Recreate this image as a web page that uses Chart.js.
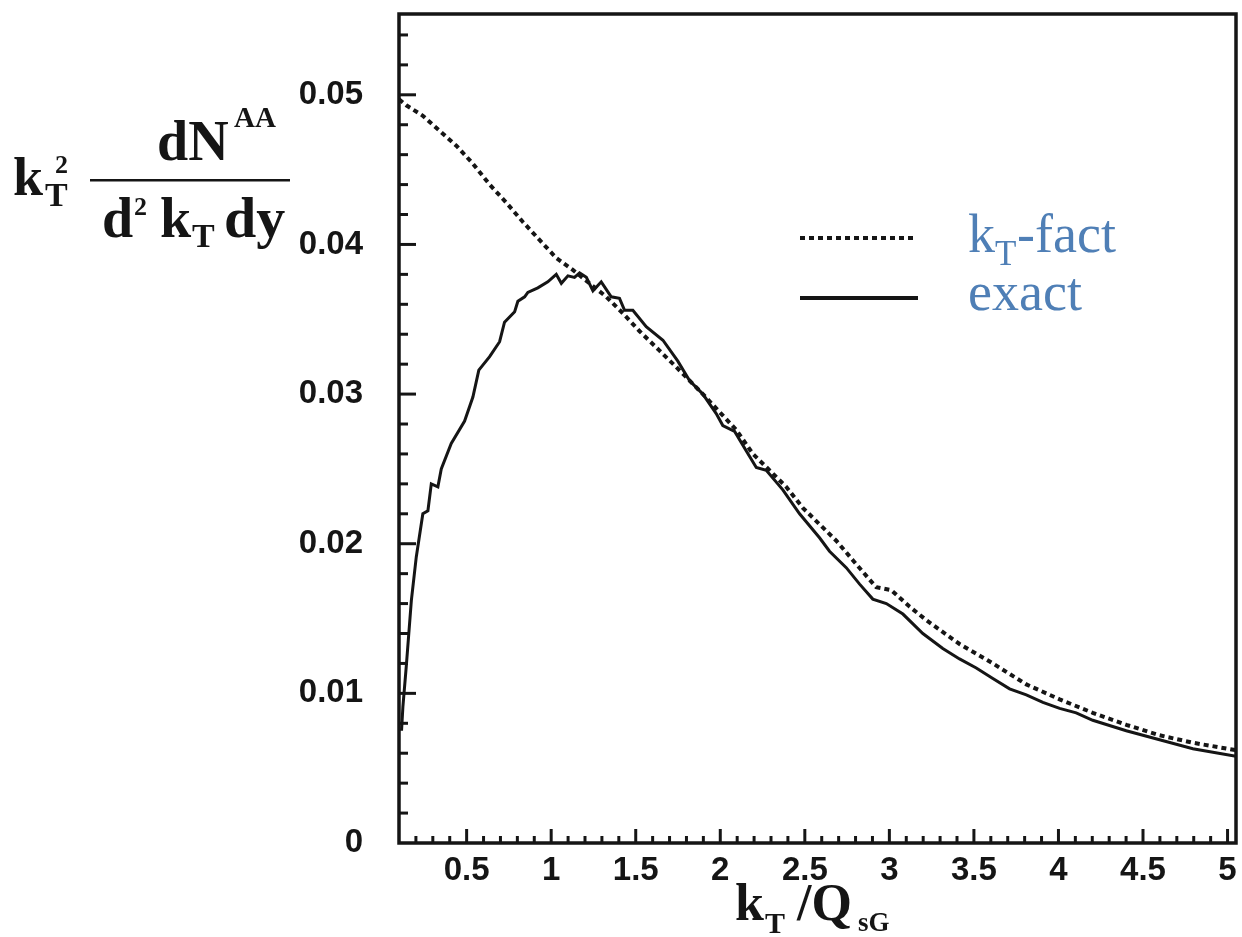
<!DOCTYPE html>
<html>
<head>
<meta charset="utf-8">
<script src="https://cdn.jsdelivr.net/npm/chart.js@4/dist/chart.umd.min.js"></script>
<style>
  html, body { margin: 0; padding: 0; background: #fff; }
</style>
</head>
<body>
<canvas id="spectrumChart" width="1242" height="937"></canvas>
<script>
// exact solution
const exactKT = [0.115, 0.123, 0.143, 0.173, 0.202, 0.241, 0.271, 0.291, 0.330, 0.350,
  0.409, 0.488, 0.537, 0.572, 0.636, 0.695, 0.724, 0.784, 0.803, 0.843,
  0.862, 0.921, 0.980, 1.030, 1.060, 1.099, 1.138, 1.168, 1.208, 1.247,
  1.296, 1.355, 1.404, 1.434, 1.483, 1.562, 1.661, 1.749, 1.818, 1.897,
  1.976, 2.015, 2.085, 2.154, 2.213, 2.272, 2.370, 2.469, 2.587, 2.646,
  2.745, 2.824, 2.902, 2.982, 3.080, 3.198, 3.316, 3.415, 3.514, 3.612,
  3.711, 3.810, 3.908, 4.007, 4.105, 4.203, 4.401, 4.598, 4.795, 5.05];
const exactValues = [0.0075, 0.0091, 0.0118, 0.0162, 0.0191, 0.0220, 0.0222, 0.0240, 0.0238, 0.0250,
  0.0267, 0.0282, 0.0298, 0.0316, 0.0325, 0.0335, 0.0348, 0.0355, 0.0362, 0.0365,
  0.0368, 0.0371, 0.0375, 0.0380, 0.0374, 0.0379, 0.0378, 0.0381, 0.0378, 0.0369,
  0.0375, 0.0365, 0.0364, 0.0356, 0.0356, 0.0345, 0.0336, 0.0322, 0.0309, 0.0300,
  0.0287, 0.0279, 0.0275, 0.0262, 0.0251, 0.0249, 0.0236, 0.0220, 0.0204, 0.0195,
  0.0184, 0.0173, 0.0163, 0.0160, 0.0153, 0.0140, 0.0130, 0.0123, 0.0117, 0.0110,
  0.0103, 0.0099, 0.0094, 0.0090, 0.0087, 0.0082, 0.0075, 0.0069, 0.0063, 0.0058];

// kT-factorized curve
const factKT = [0.1, 0.143, 0.241, 0.340, 0.439, 0.537, 0.636, 0.734, 0.833, 0.931,
  1.030, 1.128, 1.227, 1.326, 1.424, 1.523, 1.641, 1.740, 1.897, 2.095,
  2.193, 2.292, 2.390, 2.488, 2.587, 2.686, 2.784, 2.883, 2.922, 3.011,
  3.119, 3.218, 3.415, 3.612, 3.810, 4.007, 4.203, 4.401, 4.598, 4.795, 5.05];
const factValues = [0.0497, 0.0493, 0.0486, 0.0476, 0.0466, 0.0454, 0.0440, 0.0428, 0.0415, 0.0403,
  0.0391, 0.0383, 0.0374, 0.0365, 0.0354, 0.0342, 0.0329, 0.0318, 0.0300, 0.0276,
  0.0260, 0.0249, 0.0238, 0.0224, 0.0213, 0.0202, 0.0189, 0.0176, 0.0171, 0.0169,
  0.0158, 0.0149, 0.0133, 0.0120, 0.0106, 0.0096, 0.0087, 0.0079, 0.0072, 0.0067, 0.0062];

const xTickValues = [0.5, 1, 1.5, 2, 2.5, 3, 3.5, 4, 4.5, 5];
const yTickValues = [0, 0.01, 0.02, 0.03, 0.04, 0.05];

const SERIF = '"Liberation Serif", "Times New Roman", serif';
const SANS = '"Liberation Sans", Arial, sans-serif';
const INK = '#151515';
const LEGEND_BLUE = '#4f7fb6';

// frame + inward ticks like the old PAW style
const frameTicks = {
    id: 'frameTicks',
    afterDatasetsDraw(chart) {
        const { ctx, chartArea: a, scales: { x, y } } = chart;
        ctx.save();
        ctx.strokeStyle = INK;
        ctx.lineWidth = 3;
        for (let i = 2; i <= 50; i++) {
            const px = x.getPixelForValue(i / 10);
            const len = i % 5 === 0 ? 14 : 7;
            ctx.beginPath();
            ctx.moveTo(px, a.bottom);
            ctx.lineTo(px, a.bottom - len);
            ctx.stroke();
        }
        for (let i = 1; i <= 27; i++) {
            const py = y.getPixelForValue(i * 0.002);
            const len = i % 5 === 0 ? 17 : 9;
            ctx.beginPath();
            ctx.moveTo(a.left, py);
            ctx.lineTo(a.left + len, py);
            ctx.stroke();
        }
        ctx.lineWidth = 3.5;
        ctx.strokeRect(a.left, a.top, a.right - a.left, a.bottom - a.top);
        ctx.restore();
    }
};

function txt(ctx, s, x, y, font, color) {
    ctx.font = font;
    ctx.fillStyle = color || INK;
    ctx.fillText(s, x, y);
}

// axis titles and legend drawn by hand
const annotations = {
    id: 'annotations',
    afterDraw(chart) {
        const { ctx } = chart;
        ctx.save();
        ctx.textBaseline = 'alphabetic';
        ctx.textAlign = 'left';

        // y title: kT^2 dN^AA / d^2 kT dy
        txt(ctx, 'k', 13, 195, 'bold 54px ' + SERIF);
        txt(ctx, '2', 55, 173, 'bold 26px ' + SERIF);
        txt(ctx, 'T', 45, 206, 'bold 34px ' + SERIF);
        txt(ctx, 'dN', 157, 160, 'bold 56px ' + SERIF);
        txt(ctx, 'AA', 234, 127, 'bold 29px ' + SERIF);
        ctx.fillStyle = INK;
        ctx.fillRect(90, 179, 200, 2.5);
        txt(ctx, 'd', 102, 237, 'bold 56px ' + SERIF);
        txt(ctx, '2', 134, 215, 'bold 26px ' + SERIF);
        txt(ctx, 'k', 160, 237, 'bold 56px ' + SERIF);
        txt(ctx, 'T', 192, 247, 'bold 34px ' + SERIF);
        txt(ctx, 'dy', 224, 237, 'bold 58px ' + SERIF);

        // x title: kT /Q sG
        txt(ctx, 'k', 735, 920, 'bold 52px ' + SERIF);
        txt(ctx, 'T', 765, 933, 'bold 30px ' + SERIF);
        txt(ctx, '/Q', 797, 920, 'bold 52px ' + SERIF);
        txt(ctx, 'sG', 858, 931, 'bold 27px ' + SERIF);

        // legend
        ctx.strokeStyle = INK;
        ctx.lineWidth = 4;
        ctx.setLineDash([5, 4]);
        ctx.beginPath();
        ctx.moveTo(800, 238);
        ctx.lineTo(917, 238);
        ctx.stroke();
        ctx.setLineDash([]);
        ctx.beginPath();
        ctx.moveTo(800, 298);
        ctx.lineTo(918, 298);
        ctx.stroke();

        txt(ctx, 'k', 968, 252, '54px ' + SERIF, LEGEND_BLUE);
        txt(ctx, 'T', 995, 265, '35px ' + SERIF, LEGEND_BLUE);
        txt(ctx, '-fact', 1017, 252, '54px ' + SERIF, LEGEND_BLUE);
        txt(ctx, 'exact', 968, 310, '54px ' + SERIF, LEGEND_BLUE);
        ctx.restore();
    }
};

// drop the label overhang padding chart.js adds, the frame is placed by hand
function noOverhang(scale) {
    scale.paddingTop = 0;
    scale.paddingBottom = 0;
    scale.paddingLeft = 0;
    scale.paddingRight = 0;
}

new Chart(document.getElementById('spectrumChart').getContext('2d'), {
    type: 'line',
    data: {
        datasets: [{
            label: 'kT-fact',
            data: factKT.map((k, i) => ({ x: k, y: factValues[i] })),
            borderColor: INK,
            borderWidth: 4,
            borderDash: [5, 4],
            pointRadius: 0,
            tension: 0,
            fill: false
        }, {
            label: 'exact',
            data: exactKT.map((k, i) => ({ x: k, y: exactValues[i] })),
            borderColor: INK,
            borderWidth: 3,
            pointRadius: 0,
            tension: 0,
            fill: false
        }]
    },
    options: {
        responsive: false,
        animation: false,
        devicePixelRatio: 1,
        layout: { padding: { top: 14, right: 6, left: 0, bottom: 0 } },
        plugins: {
            legend: { display: false },
            tooltip: { enabled: false }
        },
        scales: {
            x: {
                type: 'linear',
                min: 0.1,
                max: 5.05,
                afterBuildTicks: scale => { scale.ticks = xTickValues.map(v => ({ value: v })); },
                afterFit: scale => { scale.height = 94; noOverhang(scale); },
                grid: { display: false },
                border: { display: false },
                ticks: {
                    autoSkip: false,
                    maxRotation: 0,
                    padding: 0,
                    color: INK,
                    font: { family: SANS, size: 33, weight: 'bold' },
                    callback: v => String(v)
                }
            },
            y: {
                min: 0,
                max: 0.0554,
                afterBuildTicks: scale => { scale.ticks = yTickValues.map(v => ({ value: v })); },
                afterFit: scale => { scale.width = 399; noOverhang(scale); },
                grid: { display: false },
                border: { display: false },
                ticks: {
                    padding: 28,
                    color: INK,
                    font: { family: SANS, size: 33, weight: 'bold' },
                    callback: v => v === 0 ? '0' : v.toFixed(2)
                }
            }
        }
    },
    plugins: [frameTicks, annotations]
});
</script>
</body>
</html>
